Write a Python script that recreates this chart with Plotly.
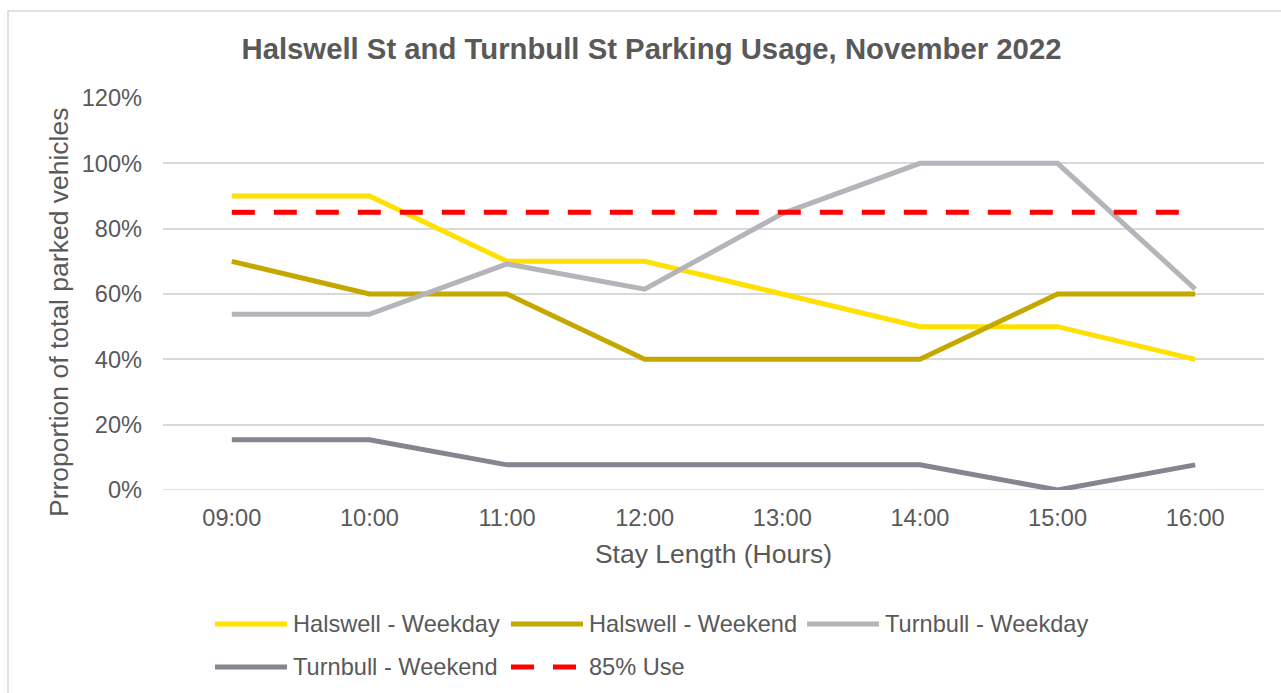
import plotly.graph_objects as go

# Data
hours = ["09:00", "10:00", "11:00", "12:00", "13:00", "14:00", "15:00", "16:00"]
halswell_weekday = [0.90, 0.90, 0.70, 0.70, 0.60, 0.50, 0.50, 0.40]
halswell_weekend = [0.70, 0.60, 0.60, 0.40, 0.40, 0.40, 0.60, 0.60]
turnbull_weekday = [0.538, 0.538, 0.692, 0.615, 0.846, 1.00, 1.00, 0.615]
turnbull_weekend = [0.154, 0.154, 0.077, 0.077, 0.077, 0.077, 0.00, 0.077]
use_threshold = [0.85] * len(hours)
y_ticks = [0, 0.2, 0.4, 0.6, 0.8, 1.0, 1.2]

_FONT = "Liberation Sans, Arial, sans-serif"
_TEXT = "#595959"
_GRID = "#d9d9d9"

series = [
    ("Halswell - Weekday", halswell_weekday, "#ffe000", None),
    ("Halswell - Weekend", halswell_weekend, "#c4a800", None),
    ("Turnbull - Weekday", turnbull_weekday, "#b4b4ba", None),
    ("Turnbull - Weekend", turnbull_weekend, "#84858f", None),
    ("85% Use", use_threshold, "#ff0000", "23px,19px"),
]

# pixel geometry of the plot area in the 1281x693 page
W, H = 1281, 693
L, R, T, B = 163, 17, 98, 203
PW, PH = W - L - R, H - T - B


def px(x):
    return (x - L) / PW


def py(y):
    return (H - B - y) / PH


fig = go.Figure()
for name, vals, color, dash in series:
    fig.add_trace(
        go.Scatter(
            x=hours,
            y=vals,
            name=name,
            mode="lines",
            line=dict(color=color, width=5, dash=dash or "solid"),
            hovertemplate="%{x}: %{y:.0%}<extra>" + name + "</extra>",
        )
    )

fig.update_layout(
    width=W,
    height=H,
    margin=dict(l=L, r=R, t=T, b=B),
    paper_bgcolor="white",
    plot_bgcolor="white",
    font=dict(family=_FONT, color=_TEXT, size=23.6),
    showlegend=False,
    title=dict(
        text="<b>Halswell St and Turnbull St Parking Usage, November 2022</b>",
        x=651.5 / W,
        xref="container",
        xanchor="center",
        y=1 - 49 / H,
        yref="container",
        yanchor="middle",
        font=dict(size=29.3, color=_TEXT, family=_FONT),
    ),
)
fig.update_xaxes(
    range=[-0.5, len(hours) - 0.5],
    showgrid=False,
    zeroline=False,
    showline=False,
    ticks="",
    ticklabelstandoff=11,
    tickfont=dict(size=23.6, color=_TEXT),
    title=dict(text="Stay Length (Hours)", font=dict(size=26.5, color=_TEXT), standoff=14),
)
fig.update_yaxes(
    range=[0, 1.2],
    tickvals=y_ticks,
    tickformat=".0%",
    showgrid=True,
    gridcolor=_GRID,
    gridwidth=1.5,
    zeroline=False,
    showline=False,
    ticks="",
    ticklabelstandoff=20,
    tickfont=dict(size=23.6, color=_TEXT),
)
fig.add_hline(y=0, line=dict(color=_GRID, width=1.5), layer="below")

# y axis title placed where the reference has it
fig.add_annotation(
    text="Prroportion of total parked vehicles",
    xref="paper", yref="paper",
    x=px(59), y=py(312), xanchor="center", yanchor="middle",
    textangle=-90, showarrow=False,
    font=dict(size=26.5, color=_TEXT),
)

# chart border (light grey frame)
fig.add_shape(
    type="rect", xref="paper", yref="paper",
    x0=px(8), x1=px(1300), y0=py(710), y1=py(11),
    line=dict(color="#d9d9d9", width=1.5), layer="below",
)

# legend drawn as a grid of fixed-width columns, like the reference
col_x = [215, 511, 807]
row_y = [624, 667]
for i, (name, vals, color, dash) in enumerate(series):
    cx = col_x[i % 3]
    cy = row_y[i // 3]
    fig.add_shape(
        type="line", xref="paper", yref="paper",
        x0=px(cx), x1=px(cx + 72), y0=py(cy), y1=py(cy),
        line=dict(color=color, width=5, dash=dash or "solid"),
    )
    fig.add_annotation(
        text=name, xref="paper", yref="paper",
        x=px(cx + 76), y=py(cy), xanchor="left", yanchor="middle",
        showarrow=False, font=dict(size=23.6, color=_TEXT),
    )

# drop the default body margin so the figure sits at the page origin
fig.write_html(
    "out.html",
    config={"displayModeBar": False},
    post_script="document.body.style.margin='0';",
)
